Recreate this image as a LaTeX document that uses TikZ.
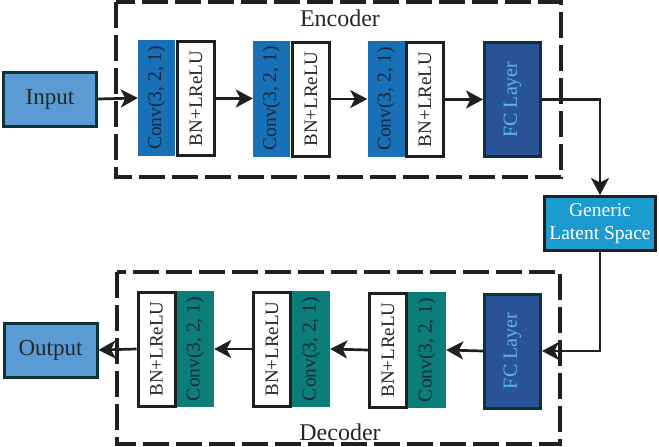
\documentclass[tikz,border=0pt]{standalone}
\usepackage{fontspec}
\setmainfont{Liberation Serif}
\usetikzlibrary{arrows.meta}
\definecolor{inputfill}{HTML}{5B9BD5}
\definecolor{darkborder}{HTML}{0E3333}
\definecolor{convblue}{HTML}{1870B8}
\definecolor{convteal}{HTML}{0B7E79}
\definecolor{fcfill}{HTML}{2A5298}
\definecolor{fctext}{HTML}{5DB8E8}
\definecolor{genfill}{HTML}{1B9AD0}
\definecolor{linecol}{HTML}{231F20}
\definecolor{convtext}{HTML}{1C2638}
\newcommand{\vtext}[1]{\rotatebox{90}{#1}}
\tikzset{
  iobox/.style={draw=darkborder, line width=3pt, fill=inputfill, minimum width=93pt, minimum height=54pt, inner sep=0pt, font=\fontsize{23}{26}\selectfont, text=black!85},
  convE/.style={fill=convblue, minimum width=37pt, minimum height=116pt, inner sep=0pt, font=\fontsize{19.5}{22}\selectfont, text=convtext},
  convD/.style={fill=convteal, minimum width=38pt, minimum height=116pt, inner sep=0pt, font=\fontsize{19.5}{22}\selectfont, text=convtext},
  bnbox/.style={draw=linecol, line width=3pt, fill=white, minimum width=37pt, minimum height=114pt, inner sep=0pt, font=\fontsize{19}{22}\selectfont, text=black!85},
  fcbox/.style={draw=darkborder, line width=3pt, fill=fcfill, minimum width=56pt, minimum height=114pt, inner sep=0pt, font=\fontsize{20}{22}\selectfont, text=fctext},
  genbox/.style={draw=linecol, line width=3pt, fill=genfill, minimum width=111pt, minimum height=54pt, inner sep=0pt, align=center, font=\fontsize{19.5}{23}\selectfont, text=white},
  conn/.style={draw=linecol, line width=2.7pt, -{Stealth[length=17pt,width=18pt,inset=4.5pt]}},
  dashbox/.style={draw=linecol, line width=3.5pt, dash pattern=on 26pt off 7pt},
  title/.style={font=\fontsize{24}{28}\selectfont, text=black!85}
}
\begin{document}
\begin{tikzpicture}[x=1pt,y=-1pt]
\useasboundingbox (0,0) rectangle (659,447);
% dashed frames
\draw[dashbox] (116,2) rectangle (561,177);
\draw[dashbox] (117,272) rectangle (560,444);
\node[title] (enc) at (340,18) {Encoder};
\node[title] (dec) at (340,432) {Decoder};
% encoder
\node[iobox] (input) at (50,99) {Input};
\node[convE] (ec1) at (156.5,98) {\vtext{Conv(3, 2, 1)}};
\node[bnbox] (eb1) at (196,98.5) {\vtext{BN+LReLU}};
\node[convE] (ec2) at (271.5,98.5) {\vtext{Conv(3, 2, 1)}};
\node[bnbox] (eb2) at (311,99) {\vtext{BN+LReLU}};
\node[convE] (ec3) at (386,99) {\vtext{Conv(3, 2, 1)}};
\node[bnbox] (eb3) at (425,99.5) {\vtext{BN+LReLU}};
\node[fcbox] (efc) at (512.5,99.5) {\vtext{FC Layer}};
% latent
\node[genbox] (gen) at (600,223.5) {Generic\\Latent Space};
% decoder
\node[fcbox] (dfc) at (512.5,351) {\vtext{FC Layer}};
\node[convD] (dc3) at (427,350) {\vtext{Conv(3, 2, 1)}};
\node[bnbox] (db3) at (388,350) {\vtext{BN+LReLU}};
\node[convD] (dc2) at (311,349) {\vtext{Conv(3, 2, 1)}};
\node[bnbox] (db2) at (272,349) {\vtext{BN+LReLU}};
\node[convD] (dc1) at (195,349) {\vtext{Conv(3, 2, 1)}};
\node[bnbox] (db1) at (156.5,349) {\vtext{BN+LReLU}};
\node[iobox] (output) at (50.5,350) {Output};
% connectors
\draw[conn] (input.east) -- (ec1.west);
\draw[conn] (eb1.east) -- (ec2.west);
\draw[conn] (eb2.east) -- (ec3.west);
\draw[conn] (eb3.east) -- (efc.west);
\draw[conn] (efc.east) -| (gen.north);
\draw[conn] (gen.south) |- (dfc.east);
\draw[conn] (dfc.west) -- (dc3.east);
\draw[conn] (db3.west) -- (dc2.east);
\draw[conn] (db2.west) -- (dc1.east);
\draw[conn] (db1.west) -- (output.east);
\end{tikzpicture}
\end{document}
